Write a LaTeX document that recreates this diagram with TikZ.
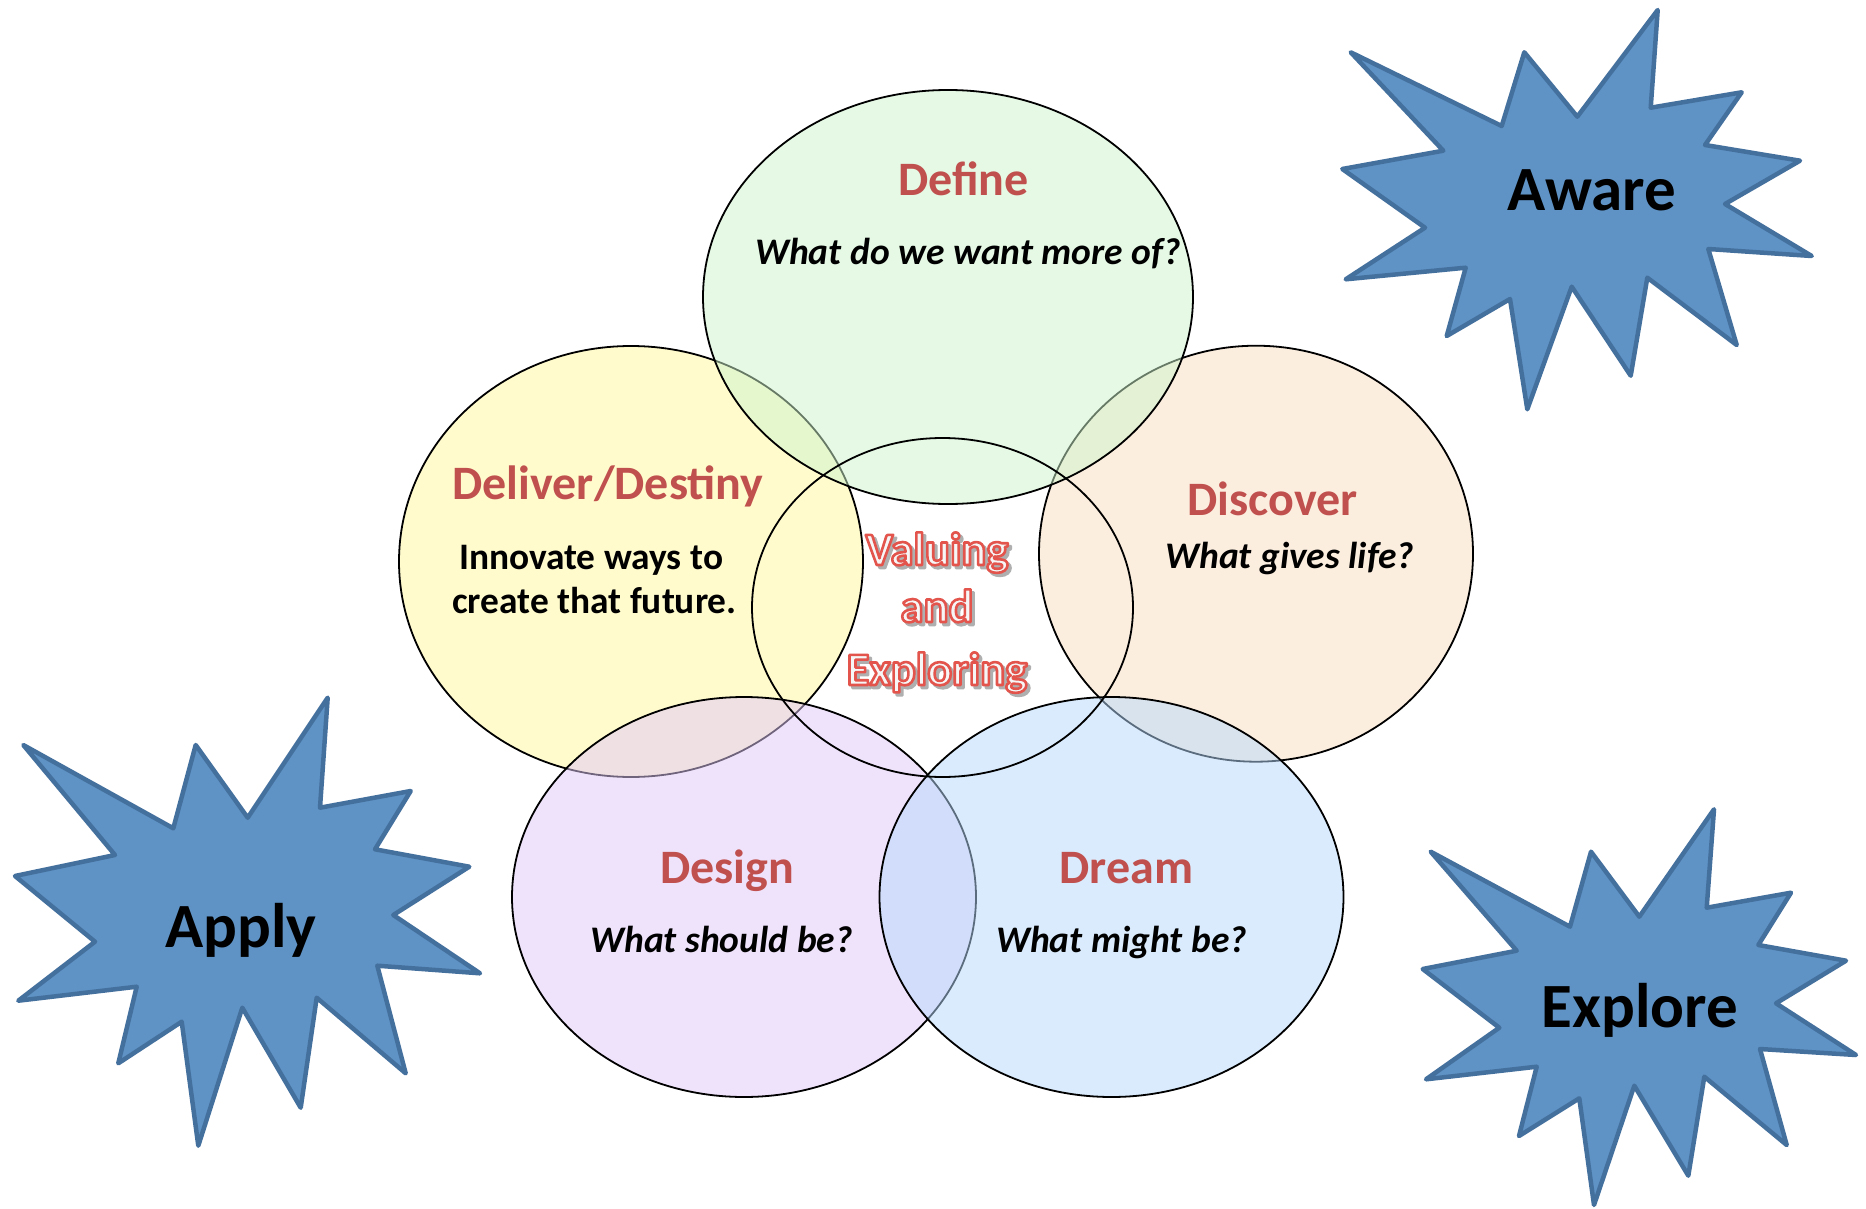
\documentclass[tikz,border=0pt]{standalone}
\usepackage{fontspec}
\setmainfont{Carlito}

\definecolor{headred}{RGB}{192,80,77}
\definecolor{burstfill}{RGB}{95,147,198}
\definecolor{burstline}{RGB}{68,112,158}
\definecolor{corefill}{RGB}{246,246,246}
\definecolor{coreshade}{RGB}{175,175,175}
\definecolor{definefill}{RGB}{205,245,205}
\definecolor{deliverfill}{RGB}{255,249,157}
\definecolor{discoverfill}{RGB}{251,223,193}
\definecolor{designfill}{RGB}{225,201,249}
\definecolor{dreamfill}{RGB}{181,217,251}

% outlined lettering: fill and stroke the glyphs (text render mode 2)
\newcommand{\redrim}[1]{\special{pdf:literal direct 2 Tr 2.6 w 1 j 0.886 0.329 0.298 RG}#1\special{pdf:literal direct 0 Tr}}
\newcommand{\greyrim}[1]{\special{pdf:literal direct 2 Tr 2.6 w 1 j 0.686 0.686 0.686 RG}#1\special{pdf:literal direct 0 Tr}}

\begin{document}
\begin{tikzpicture}[x=1pt,y=-1pt,
  ring/.style={draw=black,line width=1.8pt,fill opacity=0.5},
  burst/.style={fill=burstfill,draw=burstline,line width=4.5pt,line join=round},
  head/.style={font=\fontsize{48}{52}\selectfont\bfseries,text=headred,anchor=base,inner sep=0pt},
  ask/.style={font=\fontsize{37.5}{41}\selectfont\bfseries\itshape,anchor=base,inner sep=0pt},
  plain/.style={font=\fontsize{37.4}{41}\selectfont\bfseries,anchor=base,inner sep=0pt},
  shout/.style={font=\fontsize{63}{66}\selectfont\bfseries,anchor=base,inner sep=0pt},
  core/.style={font=\fontsize{46.5}{50}\selectfont\bfseries,anchor=base,inner sep=0pt}]

\useasboundingbox (0,0) rectangle (1866,1209);
\fill[white] (0,0) rectangle (1866,1209);

% the five phase rings, translucent so their overlaps blend
\path[ring,fill=deliverfill]  (631,561.5)  ellipse [x radius=232pt,y radius=215.5pt];
\path[ring,fill=discoverfill] (1256,553.7) ellipse [x radius=217pt,y radius=208pt];
\path[ring,fill=designfill]   (744,897)    ellipse [x radius=232pt,y radius=200pt];
\path[ring,fill=dreamfill]    (1111.5,897) ellipse [x radius=232pt,y radius=200pt];
\path[ring,fill=definefill]   (948,297)    ellipse [x radius=245pt,y radius=207pt];
% the central ring, outline only
\draw[black,line width=1.8pt] (942.5,607.5) ellipse [x radius=190.5pt,y radius=169.5pt];

% starbursts
\draw[burst] (1350.7,52.3) -- (1501.7,126) -- (1524.3,52.3) -- (1577.3,116.7)
  -- (1657.7,10) -- (1650.7,107.7) -- (1741.7,92.3) -- (1705,145)
  -- (1800,160.7) -- (1725,204) -- (1811.7,256) -- (1708.3,249)
  -- (1736.7,345) -- (1647.3,277.7) -- (1630.7,375.7) -- (1571.7,286.7)
  -- (1527.3,409.3) -- (1510,299) -- (1446.7,336) -- (1465.7,267.7)
  -- (1345.7,279.3) -- (1425,227.7) -- (1342.3,169) -- (1443.3,150.7) -- cycle;
\draw[burst] (23.3,745) -- (173.3,828.3) -- (195.7,745) -- (247.7,817.7)
  -- (327.7,697.7) -- (320,807.7) -- (410.7,791) -- (375,849.3)
  -- (469.3,866.7) -- (393.3,915) -- (480,973.3) -- (377.3,965.7)
  -- (405.7,1073.3) -- (316.7,997.7) -- (300.7,1107.7) -- (242.3,1007.7)
  -- (198.3,1145.7) -- (181.7,1021.7) -- (118.3,1063.3) -- (136.7,986.7)
  -- (18.3,1000.7) -- (95,941.7) -- (15,876) -- (115,855) -- cycle;
\draw[burst] (1430.7,851.7) -- (1570,926.7) -- (1591,851.7) -- (1639.3,916.7)
  -- (1714,809.3) -- (1706.7,907.7) -- (1791,892.7) -- (1758.3,945)
  -- (1846,960.7) -- (1776,1003.3) -- (1856,1055) -- (1760,1049)
  -- (1786.7,1145) -- (1704.3,1076.7) -- (1688.3,1175.7) -- (1634.3,1085.7)
  -- (1594,1205) -- (1579.3,1098.3) -- (1519,1136) -- (1536.7,1066.7)
  -- (1426,1079.3) -- (1499.3,1027.7) -- (1422.7,969) -- (1516.7,950.7) -- cycle;

\node[shout] (aware)   at (1591.5,211) {Aware};
\node[shout] (apply)   at (241,947)    {Apply};
\node[shout] (explore) at (1640,1027)  {Explore};

% phase titles and questions
\node[head] (define)   at (963.5,196)  {Define};
\node[ask]  (defineq)  at (968,264)    {What do we want more of?};
\node[head] (deliver)  at (608,499)    {Deliver/Destiny};
\node[plain] (deliverq1) at (591,569)  {Innovate ways to};
\node[plain] (deliverq2) at (594.5,613) {create that future.};
\node[head] (discover) at (1272.7,515) {Discover};
\node[ask]  (discoverq) at (1289.7,568) {What gives life?};
\node[head] (design)   at (727,883)    {Design};
\node[ask]  (designq)  at (721.5,952)  {What should be?};
\node[head] (dream)    at (1126.5,883) {Dream};
\node[ask]  (dreamq)   at (1121.5,952) {What might be?};

% outlined centre words with a soft drop shadow
\node[core,text=coreshade] (val1s) at (940,568) {\greyrim{Valuing}};
\node[core,text=coreshade] (val2s) at (940,625) {\greyrim{and}};
\node[core,text=coreshade] (val3s) at (940,688) {\greyrim{Exploring}};
\node[core,text=corefill] (val1) at (937,565) {\redrim{Valuing}};
\node[core,text=corefill] (val2) at (937,622) {\redrim{and}};
\node[core,text=corefill] (val3) at (937,685) {\redrim{Exploring}};
\end{tikzpicture}
\end{document}
